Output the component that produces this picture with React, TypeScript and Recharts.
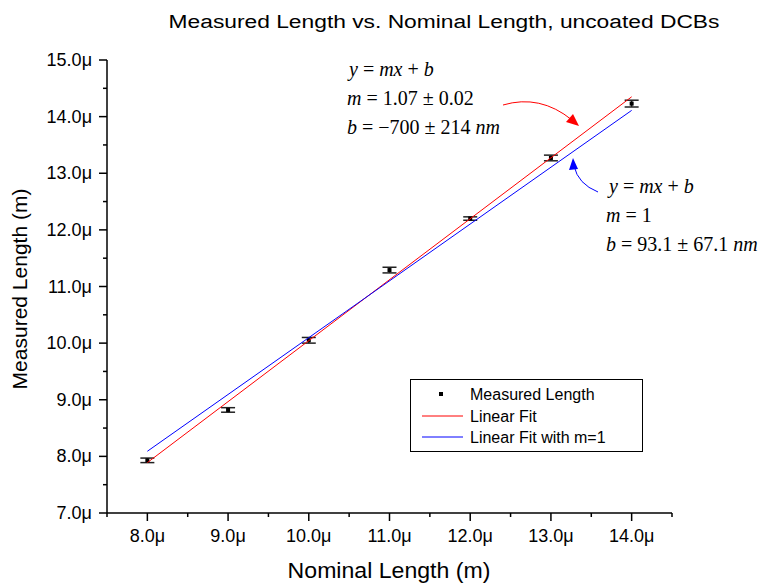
import { ScatterChart, Scatter, XAxis, YAxis, ErrorBar } from "recharts";

const nominal = [8, 9, 10, 11, 12, 13, 14];
const measured = [7.93, 8.82, 10.05, 11.29, 12.2, 13.27, 14.23];
const measuredErr = [0.04, 0.04, 0.05, 0.05, 0.03, 0.05, 0.06];

const fitX = [8, 14];
const linearFit = [7.89, 14.35];
const fixedSlopeFit = [8.09, 14.11];

const xTicks = [7.5, 8, 8.5, 9, 9.5, 10, 10.5, 11, 11.5, 12, 12.5, 13, 13.5, 14, 14.5];
const yTicks = [7, 7.5, 8, 8.5, 9, 9.5, 10, 10.5, 11, 11.5, 12, 12.5, 13, 13.5, 14, 14.5, 15];

const points = nominal.map((x, i) => ({ x, y: measured[i], err: measuredErr[i] }));
const redLine = fitX.map((x, i) => ({ x, y: linearFit[i] }));
const blueLine = fitX.map((x, i) => ({ x, y: fixedSlopeFit[i] }));

const SANS = "'Liberation Sans', Arial, sans-serif";
const SERIF = "'Liberation Serif', 'Times New Roman', serif";

const isMajor = (v: number) => Math.abs(v - Math.round(v)) < 1e-6;

function XTick(props: any) {
  const { x, y, payload } = props;
  const v = payload.value as number;
  const major = isMajor(v);
  return (
    <g>
      <line x1={x} x2={x} y1={y} y2={y + (major ? 8 : 4)} stroke="#000" strokeWidth={1.5} />
      {major && (
        <text x={x} y={y + 29} textAnchor="middle" fontFamily={SANS} fontSize={18} fill="#000">
          {`${v.toFixed(1)}μ`}
        </text>
      )}
    </g>
  );
}

function YTick(props: any) {
  const { x, y, payload } = props;
  const v = payload.value as number;
  const major = isMajor(v);
  return (
    <g>
      <line x1={x} x2={x - (major ? 8 : 4)} y1={y} y2={y} stroke="#000" strokeWidth={1.5} />
      {major && (
        <text x={x - 15} y={y + 6} textAnchor="end" fontFamily={SANS} fontSize={18} fill="#000">
          {`${v.toFixed(1)}μ`}
        </text>
      )}
    </g>
  );
}

const SquareDot = (props: any) => {
  const { cx, cy } = props;
  return <rect x={cx - 2} y={cy - 2} width={4} height={4} fill="#000" />;
};

const NoDot = () => <g />;

export default function App() {
  return (
    <div style={{ position: "absolute", left: 0, top: 0, width: 760, height: 583, background: "#fff" }}>
      <ScatterChart width={760} height={583} margin={{ top: 60, right: 88, bottom: 0, left: 0 }}>
        <XAxis
          type="number"
          dataKey="x"
          domain={[7.5, 14.5]}
          ticks={xTicks}
          interval={0}
          height={70}
          tickSize={0}
          tickMargin={0}
          tickLine={false}
          tick={<XTick />}
          axisLine={{ stroke: "#000", strokeWidth: 1.5 }}
          allowDataOverflow
        />
        <YAxis
          type="number"
          dataKey="y"
          domain={[7, 15]}
          ticks={yTicks}
          interval={0}
          width={107}
          tickSize={0}
          tickMargin={0}
          tickLine={false}
          tick={<YTick />}
          axisLine={{ stroke: "#000", strokeWidth: 1.5 }}
          allowDataOverflow
        />
        <Scatter data={points} fill="#000" shape={<SquareDot />} isAnimationActive={false}>
          <ErrorBar dataKey="err" direction="y" width={7} stroke="#222" strokeWidth={1.5} />
        </Scatter>
        <Scatter
          data={redLine}
          line={{ stroke: "#ff0000", strokeWidth: 1 }}
          lineType="joint"
          shape={<NoDot />}
          isAnimationActive={false}
        />
        <Scatter
          data={blueLine}
          line={{ stroke: "#0000ff", strokeWidth: 1 }}
          lineType="joint"
          shape={<NoDot />}
          isAnimationActive={false}
        />
      </ScatterChart>

      <svg
        width={760}
        height={583}
        style={{ position: "absolute", left: 0, top: 0, pointerEvents: "none" }}
      >
        <text
          transform="translate(444 28) scale(1.2 1)"
          textAnchor="middle"
          fontFamily={SANS}
          fontSize={19}
          fill="#000"
        >
          Measured Length vs. Nominal Length, uncoated DCBs
        </text>
        <text
          transform="translate(389 578) scale(1.05 1)"
          textAnchor="middle"
          fontFamily={SANS}
          fontSize={22}
          fill="#000"
        >
          Nominal Length (m)
        </text>
        <text
          transform="translate(27 289) rotate(-90)"
          textAnchor="middle"
          fontFamily={SANS}
          fontSize={21}
          fill="#000"
        >
          Measured Length (m)
        </text>

        {/* fit annotations */}
        <g fontFamily={SERIF} fontSize={20} fill="#000">
          <text x={349} y={76}>
            <tspan fontStyle="italic">y</tspan>{" = "}
            <tspan fontStyle="italic">mx</tspan>{" + "}
            <tspan fontStyle="italic">b</tspan>
          </text>
          <text x={347} y={105}>
            <tspan fontStyle="italic">m</tspan>{" = 1.07 ± 0.02"}
          </text>
          <text x={347} y={134}>
            <tspan fontStyle="italic">b</tspan>{" = −700 ± 214 "}
            <tspan fontStyle="italic">nm</tspan>
          </text>

          <text x={609} y={193}>
            <tspan fontStyle="italic">y</tspan>{" = "}
            <tspan fontStyle="italic">mx</tspan>{" + "}
            <tspan fontStyle="italic">b</tspan>
          </text>
          <text x={606} y={222}>
            <tspan fontStyle="italic">m</tspan>{" = 1"}
          </text>
          <text x={606} y={251}>
            <tspan fontStyle="italic">b</tspan>{" = 93.1 ± 67.1 "}
            <tspan fontStyle="italic">nm</tspan>
          </text>
        </g>

        {/* arrows */}
        <path d="M503 105 Q540 94 572 120" fill="none" stroke="#ff0000" strokeWidth={1} />
        <polygon points="579,126 566,122 573,114" fill="#ff0000" />
        <path d="M598 192 Q578 184 574 166" fill="none" stroke="#0000ff" strokeWidth={1} />
        <polygon points="573,158 569,170 578,169" fill="#0000ff" />

        {/* legend */}
        <rect x={410.5} y={379.5} width={232} height={72} fill="#fff" stroke="#000" strokeWidth={1} />
        <rect x={439} y={392} width={4} height={4} fill="#000" />
        <line x1={422} x2={463} y1={416} y2={416} stroke="#ff0000" strokeWidth={1} />
        <line x1={422} x2={463} y1={437} y2={437} stroke="#0000ff" strokeWidth={1} />
        <g fontFamily={SANS} fontSize={16} fill="#000">
          <text x={470} y={400}>Measured Length</text>
          <text x={470} y={422}>Linear Fit</text>
          <text x={470} y={443}>Linear Fit with m=1</text>
        </g>
      </svg>
    </div>
  );
}
